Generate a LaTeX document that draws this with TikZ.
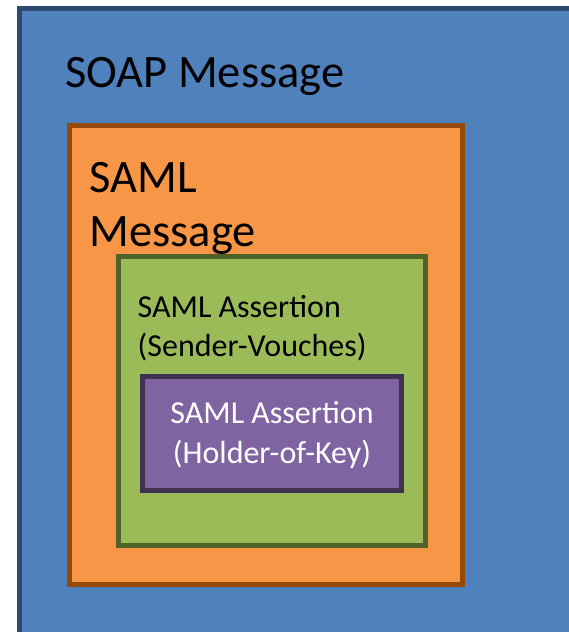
\documentclass[tikz,border=0pt]{standalone}
\usepackage{fontspec}
\setmainfont{Carlito}
\definecolor{soapfill}{HTML}{4F81BD}
\definecolor{soapline}{HTML}{2C4A6E}
\definecolor{samlfill}{HTML}{F79646}
\definecolor{samlline}{HTML}{984807}
\definecolor{svfill}{HTML}{9BBB59}
\definecolor{svline}{HTML}{4F6228}
\definecolor{hokfill}{HTML}{8064A2}
\definecolor{hokline}{HTML}{3F3151}
\tikzset{
  box/.style={line width=5pt},
  bigtext/.style={inner sep=0pt, anchor=base west, align=left, font=\fontsize{46.5}{54}\selectfont},
  midtext/.style={inner sep=0pt, align=left, font=\fontsize{32}{39.7}\selectfont},
}
\begin{document}
\begin{tikzpicture}[x=1pt,y=-1pt]
\useasboundingbox (0,0) rectangle (569,632);
\clip (0,0) rectangle (569,632);
\fill[white] (0,0) rectangle (569,632);
% SOAP message
\draw[box, draw=soapline, fill=soapfill] (19.5,8.5) rectangle (590,650);
\node[bigtext] (soap) at (65,87.3) {SOAP Message};
% SAML message
\draw[box, draw=samlline, fill=samlfill] (69.5,125.5) rectangle (462.5,584.5);
\node[bigtext] (saml) at (89.5,246.7) {SAML\\Message};
% Sender-vouches assertion
\draw[box, draw=svline, fill=svfill] (118,256.5) rectangle (425.5,545);
\node[midtext, anchor=base west] (sv) at (137.5,356.7) {SAML Assertion\\(Sender-Vouches)};
% Holder-of-key assertion
\draw[box, draw=hokline, fill=hokfill] (142.5,376) rectangle (401.5,490);
\node[midtext, align=center, anchor=base, text=white] (hok) at (272,463.5) {SAML Assertion\\(Holder-of-Key)};
\end{tikzpicture}
\end{document}
